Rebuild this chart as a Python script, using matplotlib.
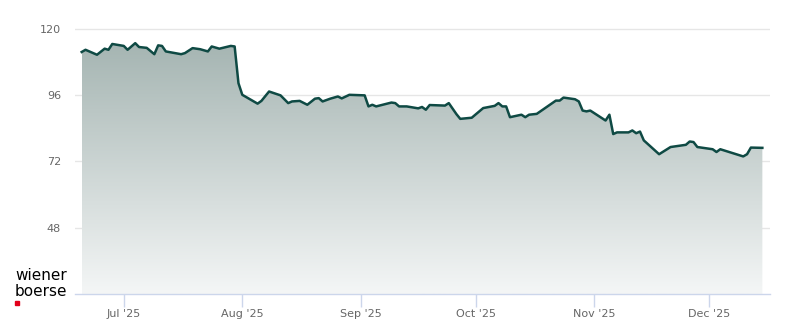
import numpy as np
import pandas as pd
import matplotlib
matplotlib.use("Agg")
import matplotlib.pyplot as plt
import matplotlib.dates as mdates
from matplotlib.colors import LinearSegmentedColormap
from matplotlib.patches import Rectangle

# price points
dates = ["2025-06-20", "2025-06-21", "2025-06-24", "2025-06-26", "2025-06-27", "2025-06-28",
         "2025-07-01", "2025-07-02", "2025-07-04", "2025-07-05", "2025-07-07", "2025-07-09",
         "2025-07-10", "2025-07-11", "2025-07-12", "2025-07-16", "2025-07-17", "2025-07-19",
         "2025-07-21", "2025-07-23", "2025-07-24", "2025-07-26", "2025-07-29", "2025-07-30",
         "2025-07-31", "2025-08-01", "2025-08-05", "2025-08-06", "2025-08-08", "2025-08-11",
         "2025-08-13", "2025-08-14", "2025-08-16", "2025-08-18", "2025-08-20", "2025-08-21",
         "2025-08-22", "2025-08-24", "2025-08-26", "2025-08-27", "2025-08-29", "2025-09-02",
         "2025-09-03", "2025-09-04", "2025-09-05", "2025-09-09", "2025-09-10", "2025-09-11",
         "2025-09-13", "2025-09-16", "2025-09-17", "2025-09-18", "2025-09-19", "2025-09-23",
         "2025-09-24", "2025-09-26", "2025-09-27", "2025-09-30", "2025-10-03", "2025-10-06",
         "2025-10-07", "2025-10-08", "2025-10-09", "2025-10-10", "2025-10-13", "2025-10-14",
         "2025-10-15", "2025-10-17", "2025-10-22", "2025-10-23", "2025-10-24", "2025-10-27",
         "2025-10-28", "2025-10-29", "2025-10-30", "2025-10-31", "2025-11-04", "2025-11-05",
         "2025-11-06", "2025-11-07", "2025-11-10", "2025-11-11", "2025-11-12", "2025-11-13",
         "2025-11-14", "2025-11-18", "2025-11-21", "2025-11-25", "2025-11-26", "2025-11-27",
         "2025-11-28", "2025-12-02", "2025-12-03", "2025-12-04", "2025-12-10", "2025-12-11",
         "2025-12-12", "2025-12-15"]
prices = [111.6, 112.4, 110.6, 112.8, 112.4, 114.5,
          113.8, 112.4, 114.8, 113.4, 113.1, 110.8,
          114.0, 113.8, 111.8, 110.8, 111.2, 113.0,
          112.6, 111.8, 113.6, 112.8, 113.8, 113.6,
          100.3, 96.1, 92.9, 93.9, 97.3, 95.9,
          93.1, 93.7, 93.9, 92.5, 94.7, 94.9,
          93.7, 94.7, 95.5, 94.8, 96.1, 95.9,
          91.9, 92.5, 91.9, 93.3, 93.1, 91.9,
          91.9, 91.2, 91.7, 90.7, 92.4, 92.2,
          93.1, 89.1, 87.4, 87.8, 91.3, 92.1,
          93.1, 91.9, 91.9, 88.0, 88.9, 88.0,
          88.9, 89.2, 94.0, 94.0, 95.1, 94.5,
          93.7, 90.4, 90.1, 90.4, 86.8, 88.9,
          81.9, 82.5, 82.5, 83.2, 82.2, 82.8,
          79.6, 74.6, 77.2, 78.0, 79.2, 79.0,
          77.2, 76.4, 75.4, 76.4, 73.8, 74.6,
          77.0, 76.9]
y_ticks = [48, 72, 96, 120]
month_ticks = ["2025-07-01", "2025-08-01", "2025-09-01", "2025-10-01", "2025-11-01", "2025-12-01"]

x = pd.to_datetime(dates)
xn = mdates.date2num(x)
y = np.array(prices)
ymin, ymax = 24, 123

fig = plt.figure(figsize=(8, 3.24), dpi=100)
ax = fig.add_axes([75 / 800, 1 - 294 / 324, 695 / 800, (294 - 20.5) / 324])

# gradient fill under the line
poly = ax.fill_between(xn, y, ymin, color="none", lw=0)
cmap = LinearSegmentedColormap.from_list("fade", ["#f4f6f6", "#9eafac"])
grad = np.linspace(0, 1, 256).reshape(-1, 1)
img = ax.imshow(grad, aspect="auto", cmap=cmap, origin="lower",
                extent=[xn[0], xn[-1], ymin, ymax], zorder=1)
img.set_clip_path(poly.get_paths()[0], transform=ax.transData)

ax.plot(xn, y, color="#0f4a44", lw=1.8, zorder=3, solid_joinstyle="round")

ax.set_xlim(mdates.date2num(pd.Timestamp("2025-06-18 06:00")),
            mdates.date2num(pd.Timestamp("2025-12-17")))
ax.set_ylim(ymin, ymax)

ax.set_yticks(y_ticks)
ax.set_yticklabels([str(t) for t in y_ticks])
ax.yaxis.grid(True, color="#e6e6e6", lw=1)
ax.set_axisbelow(True)
ax.tick_params(axis="y", length=0, pad=10, labelsize=8, labelcolor="#666666")

mt = pd.to_datetime(month_ticks)
ax.set_xticks(mdates.date2num(mt))
ax.set_xticklabels([d.strftime("%b '%y") for d in mt])
ax.tick_params(axis="x", length=9, width=1, color="#ccd6eb", pad=2,
               labelsize=8, labelcolor="#666666")

for s in ["top", "right", "left"]:
    ax.spines[s].set_visible(False)
ax.spines["bottom"].set_color("#ccd6eb")
ax.spines["bottom"].set_linewidth(1)

# logo
fig.text(15 / 800, 1 - 276 / 324, "wiener", fontsize=11, color="#000000", va="center", ha="left")
fig.text(15 / 800, 1 - 292 / 324, "boerse", fontsize=11, color="#000000", va="center", ha="left")
fig.patches.append(Rectangle((15 / 800, 1 - 305 / 324), 4 / 800, 4 / 324,
                             transform=fig.transFigure, color="#e2001a"))

fig.savefig("out.png", dpi=100)
